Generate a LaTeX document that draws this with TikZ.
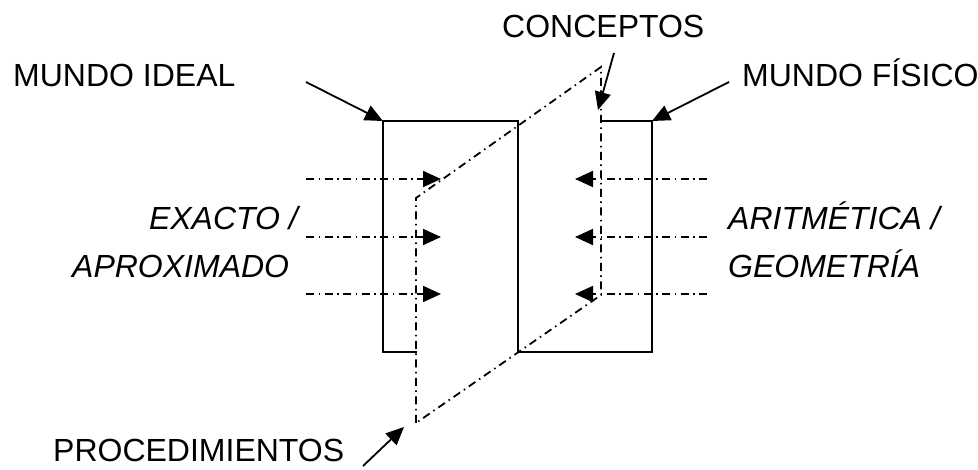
\documentclass[tikz,border=0pt]{standalone}
\usepackage{fontspec}
\setmainfont{Liberation Sans}
\usetikzlibrary{arrows.meta}
\begin{document}
\begin{tikzpicture}[x=1pt,y=-1pt,
  wall/.style={line width=2pt, line cap=rect, line join=miter},
  plane/.style={line width=1.8pt, dash pattern=on 8pt off 4.5pt on 1.5pt off 4.5pt},
  tip/.style={-{Triangle[length=18pt,width=16pt]}},
  pointer/.style={line width=1.8pt, tip},
  lbl/.style={font=\fontsize{32}{38}\selectfont, inner sep=0pt, anchor=base west},
  ilbl/.style={lbl, font=\fontsize{32}{38}\selectfont\itshape}]
\useasboundingbox (0,0) rectangle (978,470);

% corners of the two blocks
\coordinate (L1) at (383,121);
\coordinate (L2) at (518,121);
\coordinate (L3) at (518,352);
\coordinate (L4) at (383,352);
\coordinate (L5) at (416,352);
\coordinate (R1) at (601,121);
\coordinate (R2) at (652,121);
\coordinate (R3) at (652,352);

% corners of the slanted plane
\coordinate (P1) at (416,423);
\coordinate (P2) at (416,198);
\coordinate (P3) at (601,67);
\coordinate (P4) at (601,295);

% blocks
\draw[wall] (L5) -- (L4) -- (L1) -- (L2) -- (L3) -- (R3) -- (R2) -- (R1);

% plane
\draw[plane] (P1) -- (P2) -- (P3) -- (P4) -- cycle;

% horizontal flows
\foreach \i/\y in {1/179,2/237,3/294}{
  \coordinate (la\i) at (306,\y);
  \coordinate (lb\i) at (441,\y);
  \coordinate (ra\i) at (707,\y);
  \coordinate (rb\i) at (575,\y);
  \draw[plane,tip] (la\i) -- (lb\i);
  \draw[plane,tip] (ra\i) -- (rb\i);
}

% labels
\node[lbl] (ideal) at (13,87) {MUNDO IDEAL};
\node[lbl] (fisico) at (742,87) {MUNDO FÍSICO};
\node[lbl] (conceptos) at (502,38) {CONCEPTOS};
\node[lbl] (proc) at (53,461) {PROCEDIMIENTOS};
\node[ilbl, anchor=base east] (exacto) at (298,230) {EXACTO /};
\node[ilbl] (aprox) at (72,278) {APROXIMADO};
\node[ilbl] (arit) at (728,230) {ARITMÉTICA /};
\node[ilbl] (geom) at (728,278) {GEOMETRÍA};

% label pointers
\coordinate (idealT) at (306,82);
\coordinate (fisicoT) at (729,82);
\coordinate (concT) at (614,53);
\coordinate (concH) at (598,110);
\coordinate (procT) at (363,466);
\coordinate (procH) at (404,427);
\draw[pointer] (idealT) -- (L1);
\draw[pointer] (fisicoT) -- (R2);
\draw[pointer] (concT) -- (concH);
\draw[pointer] (procT) -- (procH);
\end{tikzpicture}
\end{document}
